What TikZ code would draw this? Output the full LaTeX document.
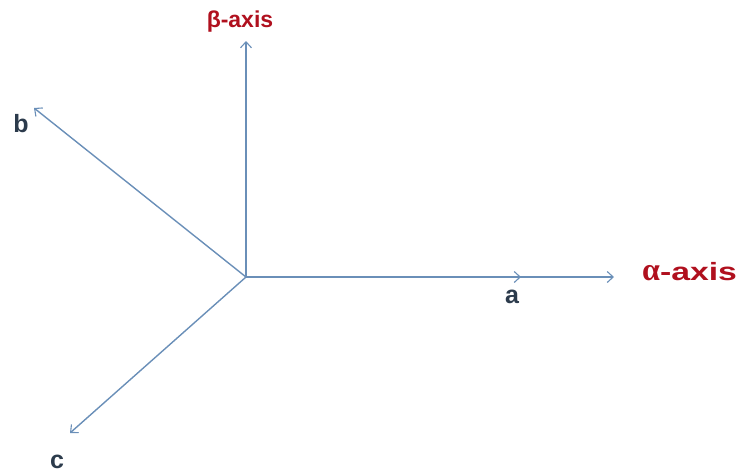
\documentclass[tikz,border=0pt]{standalone}
\usepackage{fontspec}
\usepackage{graphicx}
\setmainfont{Liberation Sans}
\newfontfamily\serifgreek{Liberation Serif}
\usetikzlibrary{arrows.meta}
\definecolor{axisblue}{HTML}{6A8FB8}
\definecolor{labelred}{HTML}{B0101E}
\definecolor{labeldark}{HTML}{2C3B4C}
\tikzset{
  axisline/.style={draw=axisblue, line width=1.4pt, -{Straight Barb[length=6pt,width=11pt,line width=1.1pt]}},
  redlabel/.style={text=labelred, font=\fontsize{23}{25}\selectfont\bfseries, inner sep=0pt},
  darklabel/.style={text=labeldark, font=\fontsize{25}{27}\selectfont\bfseries, inner sep=0pt}
}
\begin{document}
\begin{tikzpicture}[x=1pt,y=-1pt]
\useasboundingbox (0,0) rectangle (745,475);
\coordinate (O) at (246,277);
\coordinate (btip) at (246,41);
\coordinate (atip) at (614,277);
\coordinate (avec) at (521,277);
\coordinate (bvec) at (34,108);
\coordinate (cvec) at (70,433);
\draw[axisline] (O) -- (btip);
\draw[axisline] (O) -- (atip);
\draw[axisline] (O) -- (avec);
\draw[axisline] (O) -- (bvec);
\draw[axisline] (O) -- (cvec);
\node[redlabel, anchor=base] (betalabel) at (240,27) {β-axis};
\node[redlabel, anchor=base west, font=\fontsize{25}{27}\selectfont\bfseries] (alphalabel) at (642,280) {{\serifgreek\fontsize{32}{34}\selectfont α}\scalebox{1.35}[1]{-axis}};
\node[darklabel, anchor=base] (alab) at (512,303) {a};
\node[darklabel, anchor=base] (blab) at (21,132) {b};
\node[darklabel, anchor=base] (clab) at (57,468) {c};
\end{tikzpicture}
\end{document}
